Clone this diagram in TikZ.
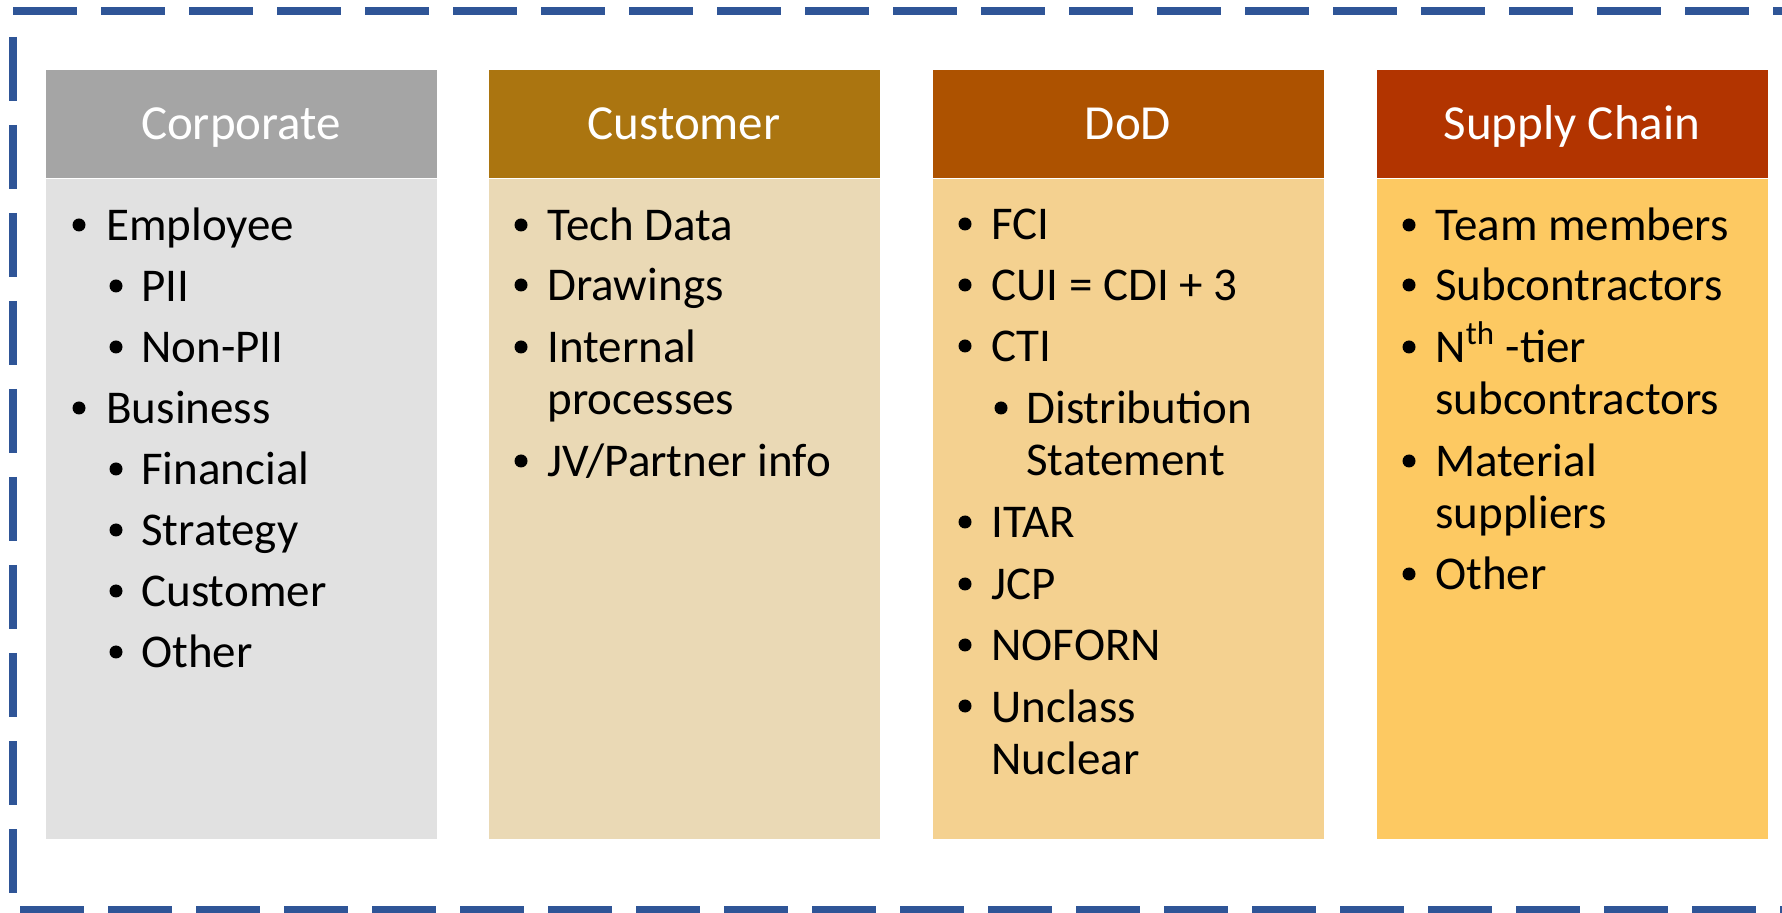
\documentclass[tikz,border=0pt]{standalone}
\usepackage{fontspec}
\setmainfont{Carlito}

\definecolor{frameBlue}{HTML}{2F5597}
\definecolor{corpHead}{HTML}{A5A5A5}
\definecolor{corpBody}{HTML}{E1E1E1}
\definecolor{custHead}{HTML}{AB7510}
\definecolor{custBody}{HTML}{EAD9B5}
\definecolor{dodHead}{HTML}{AD5200}
\definecolor{dodBody}{HTML}{F4D190}
\definecolor{suppHead}{HTML}{B23400}
\definecolor{suppBody}{HTML}{FDC962}

% item text that wraps onto a second line, baseline on the first line
\newcommand{\twolines}[1]{\begin{tabular}[t]{@{}l@{}}#1\end{tabular}}

\tikzset{
  frame/.style={draw=frameBlue, line width=4pt, dash pattern=on 32pt off 12pt},
  title/.style={anchor=base, inner sep=0pt, text=white, font=\fontsize{24.5}{28}\selectfont},
  item/.style={anchor=base west, inner sep=0pt, font=\fontsize{23.5}{26}\selectfont},
  dot/.style={circle, fill=black, inner sep=0pt, minimum size=#1},
  dot/.default=6.5pt
}

\begin{document}
\begin{tikzpicture}[x=0.5pt, y=-0.5pt]
  \useasboundingbox (0,0) rectangle (1782,913);

  % dashed frame (right side runs off the page)
  \draw[frame] (13,11) -- (1800,11);
  \draw[frame] (13,37) -- (13,905);
  \draw[frame] (20,910) -- (1800,910);

  % the four columns: body, header bar and title
  \foreach \x/\name/\hc/\bc/\title in {45/corp/corpHead/corpBody/Corporate,
      488/cust/custHead/custBody/Customer, 932/dod/dodHead/dodBody/DoD,
      1376/supp/suppHead/suppBody/Supply Chain} {
    \filldraw[fill=\bc, draw=white, line width=0.5pt] (\x,179) rectangle ++(392,660);
    \filldraw[fill=\hc, draw=white, line width=0.5pt] (\x,70) rectangle ++(392,109);
    \node[title] (\name-head) at (\x+196,140) {\title};
  }

  % Corporate
  \foreach \bx/\tx/\yy/\txt [count=\i] in {79/106/241/Employee, 116/141/302/PII,
      116/141/363/Non-PII, 79/106/424/Business, 116/141/485/Financial,
      116/141/546/Strategy, 116/141/607/Customer, 116/141/668/Other} {
    \node[dot] (corp-b\i) at (\bx,\yy-16) {};
    \node[item] (corp-t\i) at (\tx,\yy) {\txt};
  }

  % Customer
  \foreach \yy/\txt [count=\i] in {241/Tech Data, 301/Drawings,
      363/{\twolines{Internal\\processes}}, 477/{JV/Partner info}} {
    \node[dot] (cust-b\i) at (521,\yy-16) {};
    \node[item] (cust-t\i) at (547,\yy) {\txt};
  }

  % DoD
  \foreach \bx/\tx/\yy/\txt [count=\i] in {965/991/240/FCI, 965/991/301/CUI = CDI + 3,
      965/991/362/CTI, 1001/1026/424/{\twolines{Distribution\\Statement}},
      965/991/538/ITAR, 965/991/600/JCP, 965/991/661/NOFORN,
      965/991/722/{\twolines{Unclass\\Nuclear}}} {
    \node[dot] (dod-b\i) at (\bx,\yy-16) {};
    \node[item] (dod-t\i) at (\tx,\yy) {\txt};
  }

  % Supply Chain
  \foreach \yy/\txt [count=\i] in {241/Team members, 301/Subcontractors,
      363/{\twolines{N\textsuperscript{th} -tier\\subcontractors}},
      477/{\twolines{Material\\suppliers}}, 590/Other} {
    \node[dot] (supp-b\i) at (1409,\yy-16) {};
    \node[item] (supp-t\i) at (1435,\yy) {\txt};
  }

\end{tikzpicture}
\end{document}
